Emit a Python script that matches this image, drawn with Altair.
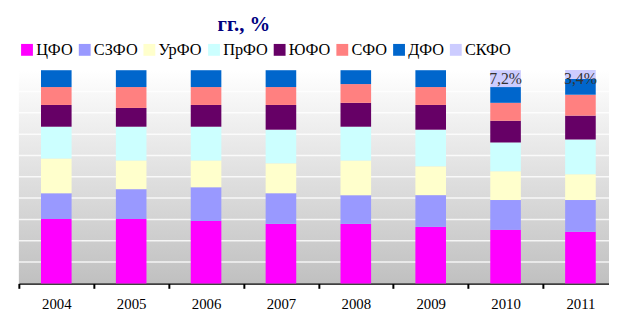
import altair as alt
import pandas as pd

years = ["2004", "2005", "2006", "2007", "2008", "2009", "2010", "2011"]
districts = ["ЦФО", "СЗФО", "УрФО", "ПрФО", "ЮФО", "СФО", "ДФО", "СКФО"]
colors = ["#FF00FF", "#9999FF", "#FFFFCC", "#CCFFFF", "#660066", "#FF8080", "#0066CC", "#CCCCFF"]

cfo = [30.2, 30.2, 29.3, 27.9, 27.9, 26.5, 25.1, 24.2]
szfo = [12.1, 14.0, 15.8, 14.4, 13.5, 14.9, 14.0, 14.9]
urfo = [16.3, 13.5, 12.6, 14.0, 16.3, 13.5, 13.5, 12.1]
prfo = [14.9, 15.8, 15.8, 15.8, 15.8, 17.2, 13.5, 16.3]
yufo = [10.2, 8.8, 10.2, 11.6, 11.2, 11.6, 10.2, 11.2]
sfo = [8.4, 9.8, 8.4, 8.4, 8.8, 8.4, 8.4, 9.8]
dfo = [7.9, 7.9, 7.9, 7.9, 6.5, 7.9, 7.4, 7.4]
skfo = [0, 0, 0, 0, 0, 0, 7.9, 4.2]
skfo_labels = ["", "", "", "", "", "", "7,2%", "3,4%"]
grid_values = [10, 20, 30, 40, 50, 60, 70, 80, 90]
title_text = "гг., %"

series = [cfo, szfo, urfo, prfo, yufo, sfo, dfo, skfo]
rows = []
for k, (name, vals) in enumerate(zip(districts, series)):
    for y, v in zip(years, vals):
        if v > 0:
            rows.append({"year": y, "district": name, "value": v, "ord": k})
df = pd.DataFrame(rows)

totals = [sum(s[i] for s in series) for i in range(len(years))]
lab_df = pd.DataFrame({"year": years, "label": skfo_labels, "top": totals})
lab_df = lab_df[lab_df["label"] != ""]

W = 598
H = 216
RANGE_W = 607
FONT = "Liberation Serif"

yscale = alt.Scale(domain=[0, 100], nice=False, zero=True)
xscale = alt.Scale(domain=years, range=[0, RANGE_W], paddingInner=0, paddingOuter=0)

bg = alt.Chart(pd.DataFrame({"a": [0]})).mark_rect(
    fill=alt.Gradient(
        gradient="linear",
        stops=[alt.GradientStop(color="#ffffff", offset=0),
               alt.GradientStop(color="#c0c0c0", offset=1)],
        x1=0, x2=0, y1=0, y2=1,
    )
).encode(x=alt.value(0), x2=alt.value(RANGE_W), y=alt.value(0), y2=alt.value(H))

grid = alt.Chart(pd.DataFrame({"g": grid_values})).mark_rule(
    color="#ffffff", strokeWidth=1.5, opacity=0.8
).encode(
    y=alt.Y("g:Q", scale=yscale, axis=None),
    x=alt.value(0), x2=alt.value(RANGE_W),
)

bars = alt.Chart(df).mark_bar(size=31).encode(
    x=alt.X("year:N", scale=xscale, sort=years,
            axis=alt.Axis(title=None, labelFont=FONT, labelFontSize=15, labelColor="black",
                          labelAngle=0, domainColor="black", domainWidth=2,
                          tickColor="black", tickWidth=2, tickSize=5, tickBand="extent",
                          labelPadding=8, grid=False)),
    y=alt.Y("value:Q", stack="zero", scale=yscale,
            axis=alt.Axis(title=None, labels=False, domainColor="black", domainWidth=2.5,
                          tickColor="black", tickWidth=2, tickSize=6,
                          values=[0, 10, 20, 30, 40, 50, 60, 70, 80, 90, 100], grid=False)),
    color=alt.Color("district:N", scale=alt.Scale(domain=districts, range=colors),
                    legend=alt.Legend(orient="none", legendX=0, legendY=-29,
                                      direction="horizontal", title=None,
                                      symbolType="square", symbolSize=144,
                                      symbolStrokeWidth=0, symbolOpacity=1,
                                      labelFont=FONT, labelFontSize=16.5, labelColor="black",
                                      columnPadding=3.5, labelOffset=1, columns=8)),
    order=alt.Order("ord:Q", sort="ascending"),
)

labels = alt.Chart(lab_df).mark_text(
    baseline="top", dy=1, font=FONT, fontSize=16, color="#333333"
).encode(
    x=alt.X("year:N", scale=xscale, sort=years),
    y=alt.Y("top:Q", scale=yscale),
    text="label:N",
)

title = alt.Chart(pd.DataFrame({"t": [title_text]})).mark_text(
    font=FONT, fontSize=21, fontWeight="bold", color="#000080", baseline="middle", align="center"
).encode(text="t:N", x=alt.value(228), y=alt.value(-46))

chart = alt.layer(bg, grid, bars, labels, title).properties(
    width=W, height=H,
    autosize=alt.AutoSizeParams(type="none"),
    padding={"left": 11, "top": 61, "right": 0, "bottom": 30},
).configure_view(stroke=None)

chart.save("out.html", embed_options={"renderer": "svg", "actions": False})
